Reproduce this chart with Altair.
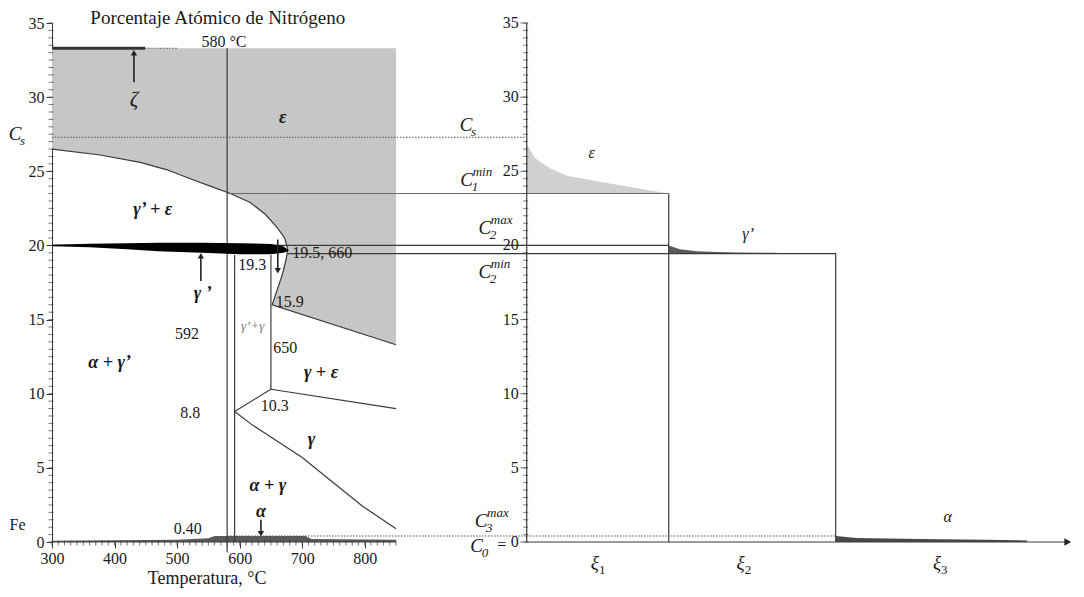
import altair as alt
import pandas as pd

# ---------------- data ----------------
# Horizontal unit: °C for the Fe-N phase diagram; the depth profile on the right
# is drawn in the same (arbitrary) horizontal unit, its concentration axis at X_AXIS2.
X_MIN, X_MAX = 300, 1934
Y_MIN, Y_MAX = 0, 35
X_AXIS2 = 1059          # concentration axis of the depth profile
XI1, XI2 = 1286, 1553   # layer boundaries ξ1 | ξ2 | ξ3
X_ARROW = 1924          # tip of the depth axis
EPS_TOP = 33.3          # upper limit of the grey ε field

# grey ε field, lower edge: upper branch of the ε boundary
eu_T = [300, 377, 441, 484, 521, 553, 585, 617, 641, 660, 672, 677]
eu_C = [26.5, 26.1, 25.6, 25.1, 24.5, 24.0, 23.5, 22.9, 22.1, 21.2, 20.5, 19.7]
# ... then the ε / γ+ε line
er_T = [676, 850]
er_C = [15.67, 13.3]
# nose of the ε field: lower branch and the ε/γ+ε line below it
en_T = [652, 660, 668, 674, 677]
en_top = [16.0, 17.0, 18.0, 19.0, 19.7]
en_bot = [16.0, 15.89, 15.78, 15.70, 15.66]
# ε boundary drawn as a line
bd_T = [300, 377, 441, 484, 521, 553, 585, 617, 641, 660, 672, 677, 674, 668, 660, 652, 850]
bd_C = [26.5, 26.1, 25.6, 25.1, 24.5, 24.0, 23.5, 22.9, 22.1, 21.2, 20.5, 19.7, 19.0, 18.0, 17.0, 16.0, 13.3]

# α+γ / γ boundary
gam_T = [592, 620, 664, 700, 744, 797, 850]
gam_C = [8.8, 7.9, 6.7, 5.7, 4.2, 2.4, 0.9]

# γ' (black wedge)
gp_T = [300, 360, 420, 470, 540, 600, 650, 670, 678]
gp_top = [20.05, 20.12, 20.15, 20.18, 20.18, 20.15, 20.1, 19.95, 19.68]
gp_bot = [19.95, 19.88, 19.75, 19.6, 19.5, 19.4, 19.4, 19.5, 19.62]

# α strip along the bottom of the diagram
al_T = [300, 400, 500, 550, 560, 705, 715, 850]
al_top = [0.08, 0.12, 0.15, 0.25, 0.4, 0.4, 0.2, 0.15]

# depth profile: ε, γ', α
pe_x = [1059, 1072, 1096, 1123, 1176, 1229, 1286]
pe_C = [26.8, 25.9, 25.2, 24.7, 24.3, 23.9, 23.5]
PE_BASE = 23.5
pg_x = [1286, 1304, 1331, 1363, 1395, 1459]
pg_C = [20.0, 19.75, 19.6, 19.55, 19.52, 19.5]
PG_BASE = 19.45
pa_x = [1553, 1587, 1688, 1795, 1859]
pa_C = [0.4, 0.27, 0.2, 0.15, 0.1]

# line segments: x1, x2, y1, y2, kind
seg_x1 = [580, 592, 650, 592, 650, 300, 677, XI1, XI2, 300, X_AXIS2, X_AXIS2, 580, 300, 580, 449, 300]
seg_x2 = [580, 592, 650, 650, 850, XI1, XI2, XI1, XI2, 850, X_ARROW, X_AXIS2, XI1, X_AXIS2, XI2, 501, 449]
seg_y1 = [-0.7, 0, 10.3, 8.8, 10.3, 20.0, 19.45, 0, 0, 0, 0, 0, 23.5, 27.3, 0.4, 33.3, 33.3]
seg_y2 = [33.3, 19.35, 19.35, 10.3, 9.0, 20.0, 19.45, 23.5, 19.5, 0, 0, 35, 23.5, 27.3, 0.4, 33.3, 33.3]
seg_kind = ["solid"] * 12 + ["light", "dot", "dot", "dot", "thick"]

# arrows: x, from, to, head shape
arr_x = [431, 538, 661, 634]
arr_from = [31.0, 17.6, 20.4, 1.5]
arr_to = [33.0, 19.3, 18.3, 0.55]
arr_shape = ["triangle-up", "triangle-up", "triangle-down", "triangle-down"]

# phase labels (bold italic)
ph_lab = ["ε", "γ’ + ε", "γ ’", "α + γ’", "γ + ε", "γ", "α + γ", "α"]
ph_x = [669, 461, 541, 392, 730, 715, 645, 634]
ph_y = [28.6, 22.4, 16.7, 12.1, 11.4, 6.9, 3.8, 2.0]

# numeric annotations
nm_lab = ["580 °C", "19.3", "19.5, 660", "15.9", "592", "650", "8.8", "10.3", "0.40"]
nm_x = [575, 620, 732, 680, 516, 673, 521, 656, 517]
nm_y = [33.75, 18.7, 19.5, 16.2, 14.0, 13.1, 8.7, 9.2, 0.85]

# profile phase labels (italic)
pp_lab = ["ε", "γ’", "α"]
pp_x = [1163, 1413, 1732]
pp_y = [26.2, 20.8, 1.7]

# concentration symbols C with sub/superscripts
c_x = [241, 962, 963, 992, 992, 986, 979]
c_y = [27.5, 28.1, 24.4, 21.2, 18.2, 1.4, -0.3]
c_sub = ["s", "s", "1", "2", "2", "3", "0"]
c_sup = ["", "", "min", "max", "min", "max", ""]

# ξ labels
xi_x = [1168, 1401, 1715]
xi_y = [-1.4, -1.4, -1.4]
xi_sub = ["1", "2", "3"]

# axis ticks
y_major = [0, 5, 10, 15, 20, 25, 30, 35]
y_minor = [i * 0.5 for i in range(71)]
x_major = [300, 400, 500, 600, 700, 800]
x_minor = [300 + 10 * i for i in range(56)]

# ---------------- chart ----------------
W, H = 1022, 519
SERIF = "Liberation Serif"
INK = "#1a1a1a"
LINE = "#3a3a3a"
GREY = "#c6c6c6"

X_SCALE = alt.Scale(domain=[X_MIN, X_MAX], nice=False, zero=False)
Y_SCALE = alt.Scale(domain=[Y_MIN, Y_MAX], nice=False, zero=False)

Y_AXIS = alt.Axis(values=y_major, format="d", tickSize=6, labelFlush=False,
                  labelFont=SERIF, labelFontSize=16, labelColor=INK, labelOverlap=False,
                  domainColor=LINE, tickColor=LINE, grid=False, title=None, labelPadding=2)
X_AXIS = alt.Axis(values=x_major, format="d", tickSize=6, labelFlush=False,
                  labelFont=SERIF, labelFontSize=16, labelColor=INK, labelOverlap=False,
                  domain=False, tickColor=LINE, grid=False, title=None, labelPadding=2)


def X(f):
    return alt.X(f"{f}:Q", scale=X_SCALE, axis=X_AXIS)


def Y(f):
    return alt.Y(f"{f}:Q", scale=Y_SCALE, axis=Y_AXIS)


df_eu = pd.DataFrame({"T": eu_T, "C": eu_C, "top": [EPS_TOP] * len(eu_T)})
df_er = pd.DataFrame({"T": er_T, "C": er_C, "top": [EPS_TOP] * len(er_T)})
df_en = pd.DataFrame({"T": en_T, "top": en_top, "bot": en_bot})
df_bd = pd.DataFrame({"T": bd_T, "C": bd_C, "i": range(len(bd_T))})
df_gam = pd.DataFrame({"T": gam_T, "C": gam_C})
df_gp = pd.DataFrame({"T": gp_T, "top": gp_top, "bot": gp_bot})
df_al = pd.DataFrame({"T": al_T, "top": al_top, "bot": [0] * len(al_T)})
df_pe = pd.DataFrame({"T": pe_x, "top": pe_C, "bot": [PE_BASE] * len(pe_x)})
df_pg = pd.DataFrame({"T": pg_x, "top": pg_C, "bot": [PG_BASE] * len(pg_x)})
df_pa = pd.DataFrame({"T": pa_x, "top": pa_C, "bot": [0] * len(pa_x)})
df_seg = pd.DataFrame({"x1": seg_x1, "x2": seg_x2, "y1": seg_y1, "y2": seg_y2, "kind": seg_kind})
df_arr = pd.DataFrame({"x": arr_x, "a": arr_from, "b": arr_to, "shape": arr_shape})
df_ph = pd.DataFrame({"t": ph_lab, "x": ph_x, "y": ph_y})
df_nm = pd.DataFrame({"t": nm_lab, "x": nm_x, "y": nm_y})
df_pp = pd.DataFrame({"t": pp_lab, "x": pp_x, "y": pp_y})
df_c = pd.DataFrame({"x": c_x, "y": c_y, "sub": c_sub, "sup": c_sup, "base": ["C"] * len(c_x)})
df_xi = pd.DataFrame({"x": xi_x, "y": xi_y, "sub": xi_sub, "base": ["ξ"] * len(xi_x)})
df_yminor = pd.DataFrame({"y": y_minor, "x": [X_MIN] * len(y_minor), "x2": [X_AXIS2] * len(y_minor)})
df_xminor = pd.DataFrame({"x": x_minor, "y": [0] * len(x_minor)})
df_ymajor2 = pd.DataFrame({"y": y_major, "x": [X_AXIS2] * len(y_major), "t": [str(v) for v in y_major]})

layers = []

# grey ε field
for d in (df_eu, df_er):
    layers.append(alt.Chart(d).mark_area(color=GREY).encode(x=X("T"), y=Y("C"), y2="top"))
layers.append(alt.Chart(df_en).mark_area(color=GREY).encode(x=X("T"), y=Y("top"), y2="bot"))
# boundaries
layers.append(alt.Chart(df_bd).mark_line(color=LINE, strokeWidth=1.2).encode(
    x=X("T"), y=Y("C"), order="i:Q"))
layers.append(alt.Chart(df_gam).mark_line(color=LINE, strokeWidth=1.2).encode(x=X("T"), y=Y("C")))
# areas
layers.append(alt.Chart(df_pe).mark_area(color="#d0d0d0").encode(x=X("T"), y=Y("top"), y2="bot"))
layers.append(alt.Chart(df_pg).mark_area(color="#5a5a5a").encode(x=X("T"), y=Y("top"), y2="bot"))
layers.append(alt.Chart(df_pa).mark_area(color="#4a4a4a").encode(x=X("T"), y=Y("top"), y2="bot"))
layers.append(alt.Chart(df_al).mark_area(color="#5a5a5a").encode(x=X("T"), y=Y("top"), y2="bot"))
# segments
layers.append(alt.Chart(df_seg).transform_filter("datum.kind === 'solid'").mark_rule(
    color=LINE, strokeWidth=1.2).encode(x=X("x1"), x2="x2", y=Y("y1"), y2="y2"))
layers.append(alt.Chart(df_seg).transform_filter("datum.kind === 'light'").mark_rule(
    color="#6a6a6a", strokeWidth=1).encode(x=X("x1"), x2="x2", y=Y("y1"), y2="y2"))
layers.append(alt.Chart(df_seg).transform_filter("datum.kind === 'dot'").mark_rule(
    color="#555555", strokeWidth=1.1, strokeDash=[1.5, 1.5]).encode(x=X("x1"), x2="x2", y=Y("y1"), y2="y2"))
layers.append(alt.Chart(df_seg).transform_filter("datum.kind === 'thick'").mark_rule(
    color="#333333", strokeWidth=3).encode(x=X("x1"), x2="x2", y=Y("y1"), y2="y2"))
# minor ticks on both concentration axes and on the temperature axis
layers.append(alt.Chart(df_yminor).mark_tick(orient="horizontal", size=5, thickness=1, color=LINE,
                                             xOffset=-1).encode(x=X("x"), y=Y("y")))
layers.append(alt.Chart(df_yminor).mark_tick(orient="horizontal", size=5, thickness=1, color=LINE,
                                             xOffset=-1).encode(x=X("x2"), y=Y("y")))
layers.append(alt.Chart(df_xminor).mark_tick(orient="vertical", size=5, thickness=1, color=LINE,
                                             yOffset=1).encode(x=X("x"), y=Y("y")))
# concentration axis of the depth profile: major ticks and labels
layers.append(alt.Chart(df_ymajor2).mark_tick(orient="horizontal", size=7, thickness=1, color=LINE,
                                              xOffset=-3).encode(x=X("x"), y=Y("y")))
layers.append(alt.Chart(df_ymajor2).mark_text(font=SERIF, fontSize=16, color=INK, align="right",
                                              dx=-8).encode(x=X("x"), y=Y("y"), text="t:N"))
# γ' wedge (on top of lines)
layers.append(alt.Chart(df_gp).mark_area(color="#000000").encode(x=X("T"), y=Y("top"), y2="bot"))
# arrows
layers.append(alt.Chart(df_arr).mark_rule(color="#222222", strokeWidth=1.6).encode(
    x=X("x"), y=Y("a"), y2="b"))
layers.append(alt.Chart(df_arr).mark_point(filled=True, size=40, color="#222222", opacity=1).encode(
    x=X("x"), y=Y("b"), shape=alt.Shape("shape:N", scale=None, legend=None)))
layers.append(alt.Chart(pd.DataFrame({"x": [X_ARROW], "y": [0]})).mark_point(
    filled=True, size=60, shape="triangle-right", color="#222222", opacity=1).encode(x=X("x"), y=Y("y")))
# texts
layers.append(alt.Chart(df_ph).mark_text(font=SERIF, fontSize=18, fontStyle="italic", fontWeight="bold",
                                         color=INK).encode(x=X("x"), y=Y("y"), text="t:N"))
layers.append(alt.Chart(pd.DataFrame({"t": ["ζ"], "x": [431], "y": [29.8]})).mark_text(
    font=SERIF, fontSize=21, fontStyle="italic", color=INK).encode(x=X("x"), y=Y("y"), text="t:N"))
layers.append(alt.Chart(pd.DataFrame({"t": ["γ’+γ"], "x": [621], "y": [14.6]})).mark_text(
    font=SERIF, fontSize=13, fontStyle="italic", color="#777777").encode(x=X("x"), y=Y("y"), text="t:N"))
layers.append(alt.Chart(df_nm).mark_text(font=SERIF, fontSize=16, color=INK).encode(
    x=X("x"), y=Y("y"), text="t:N"))
layers.append(alt.Chart(df_pp).mark_text(font=SERIF, fontSize=16, fontStyle="italic", color=INK).encode(
    x=X("x"), y=Y("y"), text="t:N"))
layers.append(alt.Chart(pd.DataFrame({"t": ["Porcentaje Atómico de Nitrógeno", "Temperatura, °C", "Fe", "="],
                                      "x": [565, 548, 245, 1019], "y": [35.35, -2.5, 1.15, -0.2],
                                      "s": [19, 18, 16, 16]})).mark_text(font=SERIF, color=INK).encode(
    x=X("x"), y=Y("y"), text="t:N", size=alt.Size("s:Q", scale=None, legend=None)))
# C symbols with sub/superscripts
layers.append(alt.Chart(df_c).mark_text(font=SERIF, fontSize=19, fontStyle="italic", color=INK).encode(
    x=X("x"), y=Y("y"), text="base:N"))
layers.append(alt.Chart(df_c).mark_text(font=SERIF, fontSize=13, fontStyle="italic", color=INK,
                                        align="left", dx=5, dy=7).encode(x=X("x"), y=Y("y"), text="sub:N"))
layers.append(alt.Chart(df_c).mark_text(font=SERIF, fontSize=13, fontStyle="italic", color=INK,
                                        align="left", dx=6, dy=-8).encode(x=X("x"), y=Y("y"), text="sup:N"))
layers.append(alt.Chart(df_xi).mark_text(font=SERIF, fontSize=19, fontStyle="italic", color=INK).encode(
    x=X("x"), y=Y("y"), text="base:N"))
layers.append(alt.Chart(df_xi).mark_text(font=SERIF, fontSize=13, color=INK,
                                         align="left", dx=4, dy=7).encode(x=X("x"), y=Y("y"), text="sub:N"))

chart = alt.layer(*layers).properties(
    width=W, height=H,
    autosize=alt.AutoSizeParams(type="none"),
    padding={"left": 44, "top": 15, "right": 2, "bottom": 49},
    background="white",
).configure_view(stroke=None)

chart.save("out.html", embed_options={"renderer": "svg", "actions": False})
